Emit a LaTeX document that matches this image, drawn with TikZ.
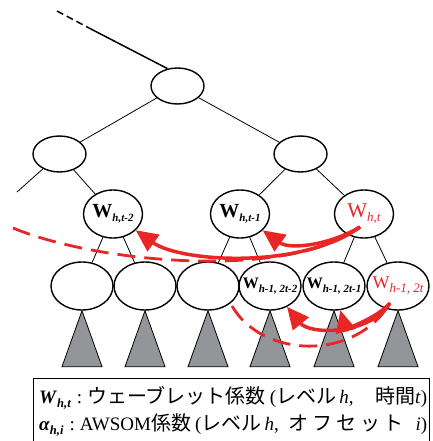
\documentclass[tikz,border=0pt]{standalone}
\usepackage{fontspec}
\setmainfont{Liberation Serif}
\newfontfamily\jpfont{Noto Sans CJK JP}
\usetikzlibrary{arrows.meta,shapes.geometric}
\definecolor{arrowred}{RGB}{232,38,38}
\definecolor{leafgray}{RGB}{147,149,152}

% coefficient labels: big W with a lowered italic subscript
\newcommand\wbold[3]{{\fontsize{#1}{#1}\selectfont\bfseries W}\raisebox{-4pt}{\fontsize{#2}{#2}\selectfont\bfseries\itshape #3}}
\newcommand\wplain[3]{{\fontsize{#1}{#1}\selectfont W}\raisebox{-4pt}{\fontsize{#2}{#2}\selectfont\itshape #3}}
\newcommand\jt[1]{{\jpfont\fontsize{20}{24}\selectfont #1}}
\newcommand\legsub[1]{\raisebox{-4pt}{\fontsize{12.5}{12.5}\selectfont\bfseries\itshape #1}}

\begin{document}
\begin{tikzpicture}[x=1pt,y=-1pt,
  treenode/.style={ellipse, draw, line width=1.4pt, inner sep=0pt,
                   minimum width=53pt, minimum height=36pt},
  midnode/.style={treenode, minimum width=59pt, minimum height=48pt},
  leafnode/.style={treenode, minimum width=62pt, minimum height=48pt},
  edge/.style={line width=0.8pt},
  leaftri/.style={draw, line width=0.8pt, fill=leafgray},
  redarrow/.style={arrowred, line width=3.5pt, -{Triangle[length=22pt,width=20pt]}},
  reddash/.style={arrowred, line width=2.8pt, dash pattern=on 18pt off 9pt},
  redlabel/.style={text=arrowred},
  legline/.style={anchor=base west, inner sep=0pt, font=\fontsize{19}{22}\selectfont}]
\useasboundingbox (0,0) rectangle (432,441);

% upper levels of the tree
\node[treenode] (root) at (177.5,86) {};
\node[treenode] (l2a) at (59.5,154) {};
\node[treenode] (l2b) at (300.5,154) {};

% level h
\node[midnode, label={center:\wbold{20}{11}{h,t-2}}] (m1) at (113,214) {};
\node[midnode, label={center:\wbold{20}{11}{h,t-1}}] (m2) at (240,214) {};
\node[midnode, label={[redlabel]center:\wplain{21}{13}{h,t}}] (m3) at (364,214) {};

% level h-1
\node[leafnode] (b1) at (82,286) {};
\node[leafnode] (b2) at (145,286) {};
\node[leafnode] (b3) at (208,286) {};
\node[leafnode, label={center:\wbold{16}{11}{h-1, 2t-2}}] (b4) at (270,286) {};
\node[leafnode, label={center:\wbold{16}{11}{h-1, 2t-1}}] (b5) at (334,286) {};
\node[leafnode, label={[redlabel]center:\wplain{18}{13}{h-1, 2t}}] (b6) at (398,286) {};

% path towards the ancestors
\coordinate (upfar) at (57,11);
\coordinate (upnear) at (89,28);
\draw[line width=1.5pt, dash pattern=on 7pt off 4pt] (upfar) -- (upnear);
\draw[line width=1.5pt] (upnear) -- (root.120);

% tree edges
\coordinate (offleft) at (17,192);
\draw[edge] (root) -- (l2a);
\draw[edge] (root) -- (l2b);
\draw[edge] (l2a) -- (offleft);
\draw[edge] (l2a) -- (m1);
\draw[edge] (l2b) -- (m2);
\draw[edge] (l2b) -- (m3);
\draw[edge] (m1) -- (b1);
\draw[edge] (m1) -- (b2);
\draw[edge] (m2) -- (b3);
\draw[edge] (m2) -- (b4);
\draw[edge] (m3) -- (b5);
\draw[edge] (m3) -- (b6);

% subtrees below level h-1
\foreach \b in {b1,b2,b3,b4,b5,b6}
  \draw[leaftri] (\b.south) -- ++(-20,56) -- ++(40,0) -- cycle;

% dependencies of the coefficients
\coordinate (srctop) at ([shift={(-4,13)}]m3.center);
\coordinate (srcbot) at ([shift={(-8,17)}]b6.center);
\coordinate (dashtop) at (13,228);
\coordinate (dashbot) at (232,306);

\draw[reddash] (dashtop) .. controls (100,264) and (290,280) .. (srctop);
\draw[reddash] (dashbot) .. controls (262,358) and (355,362) .. (srcbot);

\draw[redarrow] (srctop) .. controls (300,270) and (180,262) .. (m1);
\draw[redarrow] (srctop) .. controls (330,245) and (290,250) .. (m2);
\draw[redarrow] (srcbot) .. controls (370,335) and (310,335) .. (b4);
\draw[redarrow] (srcbot) .. controls (375,320) and (345,328) .. (b5);

% legend
\draw[line width=0.9pt] (33,441) -- (33,378) -- (429,378) -- (429,441);
\node[legline] (leg1) at (39,403)
  {\makebox[388pt][l]{\textbf{\textit{W}}\legsub{h,t}\hspace{6pt}:\hspace{5pt}\jt{ウェーブレット係数}\hspace{4pt}(\jt{レベル}\,\textit{h},\hfill\jt{時間}\textit{t})}};
\node[legline] (leg2) at (39,430)
  {\makebox[388pt][l]{\textbf{\textit{α}}\legsub{h,i}\hspace{6pt}:\hspace{5pt}AWSOM\jt{係数}\hspace{4pt}(\jt{レベル}\,\textit{h},\hspace{10pt}\jt{\makebox[115pt][s]{オ\hfil フ\hfil セ\hfil ッ\hfil ト}}\hfill\textit{i})}};
\end{tikzpicture}
\end{document}
